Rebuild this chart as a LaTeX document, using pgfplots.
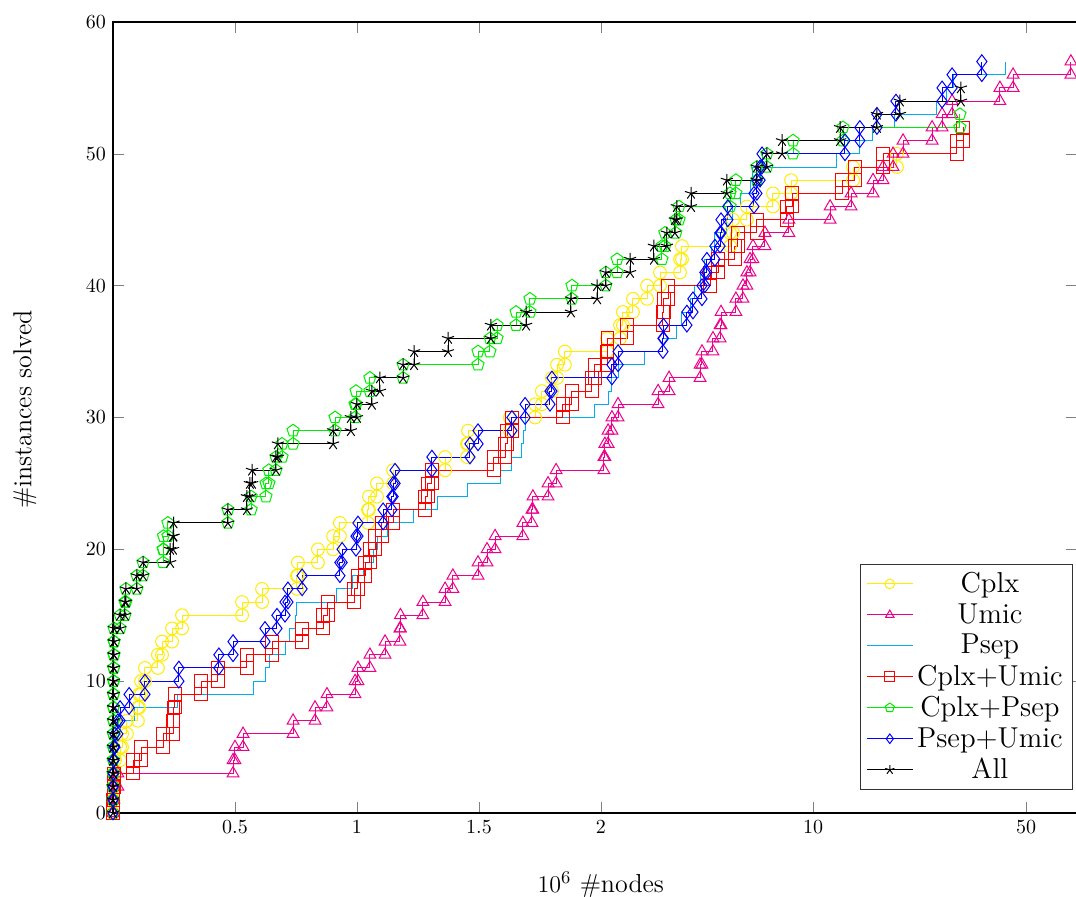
\documentclass[border=0pt]{standalone}
\usepackage{pgfplots}
\usepackage{pgfplotstable}
\pgfplotsset{compat=1.18}
\definecolor{cYellow}{RGB}{255,236,0}
\definecolor{cMagenta}{RGB}{236,0,140}
\definecolor{cCyan}{RGB}{0,174,239}
\definecolor{cGreen}{RGB}{0,235,0}

\pgfplotstableread{
x n
0.000 1
0.002 2
0.004 3
0.008 4
0.029 5
0.037 6
0.057 7
0.102 8
0.107 9
0.115 10
0.131 11
0.184 12
0.201 13
0.242 14
0.283 15
0.529 16
0.611 17
0.754 18
0.758 19
0.840 20
0.902 21
0.930 22
1.045 23
1.049 24
1.082 25
1.148 26
1.361 27
1.451 28
1.455 29
1.627 30
1.730 31
1.758 32
1.799 33
1.820 34
1.852 35
2.025 36
2.078 37
2.090 38
2.131 39
2.189 40
2.242 41
2.324 42
2.332 43
2.529 44
2.541 45
2.598 46
2.705 47
2.779 48
3.033 49
3.213 50
}\tCplx

\pgfplotstableread{
x n
0.000 1
0.004 2
0.020 3
0.492 4
0.500 5
0.533 6
0.738 7
0.828 8
0.877 9
0.992 10
1.004 11
1.053 12
1.115 13
1.176 14
1.178 15
1.270 16
1.361 17
1.393 18
1.496 19
1.533 20
1.566 21
1.680 22
1.717 23
1.721 24
1.783 25
1.816 26
2.012 27
2.016 28
2.029 29
2.045 30
2.070 31
2.234 32
2.279 33
2.406 34
2.414 35
2.459 36
2.488 37
2.492 38
2.553 39
2.582 40
2.598 41
2.611 42
2.623 43
2.672 44
2.770 45
2.939 46
3.025 47
3.115 48
3.156 49
3.197 50
3.238 51
3.357 52
3.398 53
3.439 54
3.635 55
3.689 56
3.926 57
}\tUmic

\pgfplotstableread{
x n
0.000 1
0.000 2
0.002 3
0.004 4
0.008 5
0.016 6
0.029 7
0.090 8
0.266 9
0.574 10
0.623 11
0.643 12
0.705 13
0.725 14
0.750 15
0.754 16
0.918 17
0.980 18
1.025 19
1.066 20
1.086 21
1.127 22
1.230 23
1.332 24
1.451 25
1.590 26
1.635 27
1.676 28
1.684 29
1.689 30
1.975 31
2.029 32
2.045 33
2.070 34
2.180 35
2.254 36
2.311 37
2.332 38
2.365 39
2.385 40
2.406 41
2.426 42
2.455 43
2.467 44
2.516 45
2.541 46
2.570 47
2.611 48
2.623 49
2.967 50
3.061 51
3.111 52
3.205 53
3.377 54
3.418 55
3.443 56
3.656 57
}\tPsep

\pgfplotstableread{
x n
0.000 1
0.002 2
0.004 3
0.082 4
0.115 5
0.205 6
0.246 7
0.248 8
0.254 9
0.361 10
0.430 11
0.549 12
0.652 13
0.775 14
0.861 15
0.881 16
0.988 17
1.004 18
1.033 19
1.053 20
1.074 21
1.102 22
1.148 23
1.279 24
1.291 25
1.307 26
1.561 27
1.607 28
1.615 29
1.635 30
1.844 31
1.881 32
1.963 33
1.975 34
2.025 35
2.027 36
2.107 37
2.254 38
2.258 39
2.275 40
2.447 41
2.480 42
2.549 43
2.561 44
2.639 45
2.762 46
2.783 47
2.988 48
3.041 49
3.156 50
3.459 51
3.484 52
}\tCplxUmic

\pgfplotstableread{
x n
0.000 1
0.000 2
0.000 3
0.001 4
0.001 5
0.001 6
0.002 7
0.002 8
0.002 9
0.002 10
0.003 11
0.003 12
0.004 13
0.004 14
0.029 15
0.049 16
0.053 17
0.098 18
0.123 19
0.205 20
0.207 21
0.225 22
0.471 23
0.566 24
0.627 25
0.639 26
0.668 27
0.693 28
0.738 29
0.910 30
0.992 31
0.996 32
1.053 33
1.189 34
1.496 35
1.545 36
1.574 37
1.652 38
1.709 39
1.881 40
2.020 41
2.066 42
2.250 43
2.262 44
2.307 45
2.320 46
2.529 47
2.553 48
2.639 49
2.680 50
2.787 51
2.992 52
3.471 53
}\tCplxPsep

\pgfplotstableread{
x n
0.000 1
0.000 2
0.001 3
0.002 4
0.004 5
0.008 6
0.020 7
0.029 8
0.066 9
0.131 10
0.270 11
0.434 12
0.492 13
0.623 14
0.672 15
0.705 16
0.717 17
0.775 18
0.930 19
0.939 20
0.996 21
1.004 22
1.107 23
1.143 24
1.148 25
1.156 26
1.307 27
1.463 28
1.496 29
1.635 30
1.689 31
1.791 32
1.799 33
2.045 34
2.070 35
2.254 36
2.256 37
2.352 38
2.377 39
2.414 40
2.426 41
2.434 42
2.467 43
2.488 44
2.492 45
2.520 46
2.627 47
2.639 48
2.652 49
2.660 50
3.000 51
3.061 52
3.131 53
3.209 54
3.398 55
3.439 56
3.561 57
}\tPsepUmic

\pgfplotstableread{
x n
0.000 1
0.000 2
0.000 3
0.001 4
0.001 5
0.001 6
0.002 7
0.002 8
0.002 9
0.002 10
0.003 11
0.003 12
0.004 13
0.004 14
0.029 15
0.049 16
0.053 17
0.098 18
0.123 19
0.234 20
0.246 21
0.248 22
0.471 23
0.549 24
0.561 25
0.570 26
0.668 27
0.676 28
0.902 29
0.975 30
1.000 31
1.061 32
1.094 33
1.189 34
1.234 35
1.373 36
1.549 37
1.693 38
1.877 39
1.984 40
2.020 41
2.119 42
2.217 43
2.270 44
2.303 45
2.311 46
2.369 47
2.516 48
2.639 49
2.680 50
2.742 51
2.980 52
3.131 53
3.225 54
3.475 55
}\tAll

\begin{document}
\begin{tikzpicture}
\useasboundingbox (-56.5pt,-42pt) rectangle (481.5pt,406.5pt);
\begin{axis}[
  at={(0,0)}, anchor=south west,
  scale only axis,
  width=482pt, height=395.5pt,
  xmin=0, xmax=3.951, ymin=0, ymax=60,
  xtick={0.5,1,1.5,2,2.869,3.742},
  xticklabels={0.5,1,1.5,2,10,50},
  ytick={0,10,20,30,40,50,60},
  major tick length=5.5pt,
  tick style={color=gray},
  axis line style={line width=0.6pt},
  xlabel={$10^6$ \#nodes},
  ylabel={\#instances solved},
  label style={font=\fontsize{13}{15}\selectfont},
  xlabel style={at={(axis description cs:0.506,-0.091)}, anchor=center},
  ylabel style={at={(axis description cs:-0.0913,0.51)}, anchor=center},
  legend style={at={(0.996,0.029)}, anchor=south east, font=\Large, draw=black!80},
  legend cell align=center,
  legend image code/.code={\draw[mark size=2.4pt, mark repeat=2, mark phase=2] plot coordinates {(0cm,0cm) (0.4cm,0cm) (0.8cm,0cm)};},
  every axis plot/.append style={line width=0.5pt},
]
\addplot[color=cYellow, mark=o, mark size=3.2pt, const plot] table[x=x,y=n] {\tCplx};
\addlegendentry{Cplx}
\addplot[color=cYellow, mark=o, mark size=3.2pt, only marks, forget plot] table[x=x,y expr=\thisrow{n}-1] {\tCplx};

\addplot[color=cMagenta, mark=triangle, mark size=3.4pt, const plot] table[x=x,y=n] {\tUmic};
\addlegendentry{Umic}
\addplot[color=cMagenta, mark=triangle, mark size=3.4pt, only marks, forget plot] table[x=x,y expr=\thisrow{n}-1] {\tUmic};

\addplot[color=cCyan, no marks, const plot] table[x=x,y=n] {\tPsep};
\addlegendentry{Psep}

\addplot[color=red, mark=square, mark size=3.2pt, const plot] table[x=x,y=n] {\tCplxUmic};
\addlegendentry{Cplx+Umic}
\addplot[color=red, mark=square, mark size=3.2pt, only marks, forget plot] table[x=x,y expr=\thisrow{n}-1] {\tCplxUmic};

\addplot[color=cGreen, mark=pentagon, mark size=3.2pt, const plot] table[x=x,y=n] {\tCplxPsep};
\addlegendentry{Cplx+Psep}
\addplot[color=cGreen, mark=pentagon, mark size=3.2pt, only marks, forget plot] table[x=x,y expr=\thisrow{n}-1] {\tCplxPsep};

\addplot[color=blue, mark=diamond, mark size=3.4pt, const plot] table[x=x,y=n] {\tPsepUmic};
\addlegendentry{Psep+Umic}
\addplot[color=blue, mark=diamond, mark size=3.4pt, only marks, forget plot] table[x=x,y expr=\thisrow{n}-1] {\tPsepUmic};

\addplot[color=black, mark=star, mark size=3.2pt, const plot] table[x=x,y=n] {\tAll};
\addlegendentry{All}
\addplot[color=black, mark=star, mark size=3.2pt, only marks, forget plot] table[x=x,y expr=\thisrow{n}-1] {\tAll};
\end{axis}
\end{tikzpicture}
\end{document}
